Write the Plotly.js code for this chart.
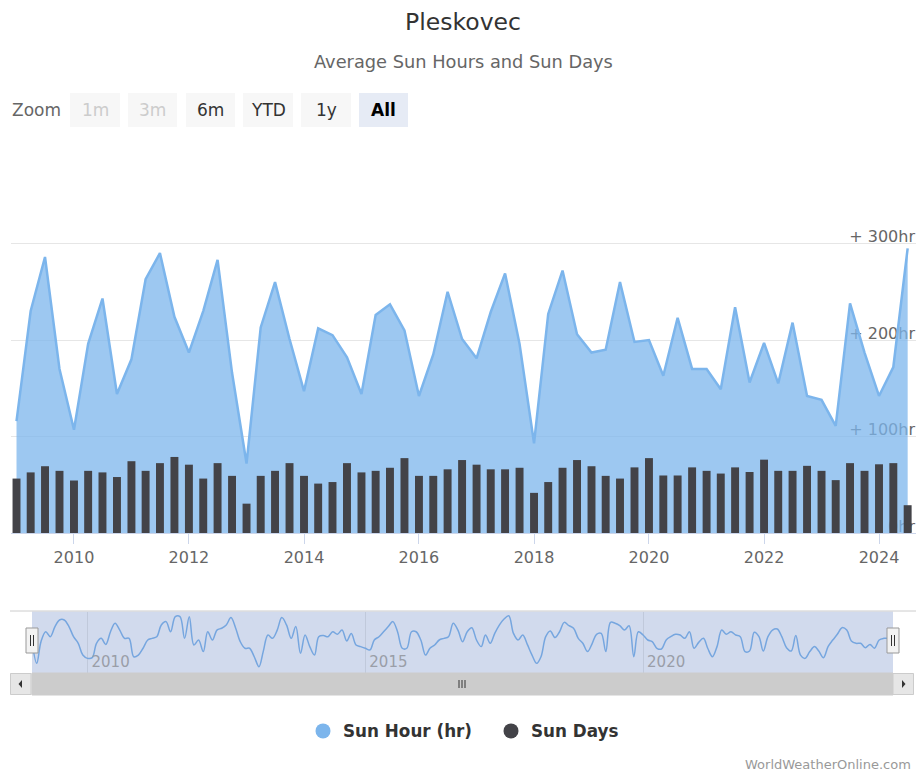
<!DOCTYPE html>
<html><head><meta charset="utf-8">
<script src="https://cdn.plot.ly/plotly-3.0.1.min.js"></script>
<style>html,body{margin:0;padding:0;background:#fff;}#chart{width:916px;height:773px;}</style>
</head><body><div id="chart"></div>
<script>
// ---- data (quarterly, starting Jan 2009) ----
const firstYear = 2009;
const sunHours = [
  116, 230, 286, 170,
  107, 196, 243, 144,
  180, 263, 290, 224,
  187, 230, 283, 166,
  72, 213, 260, 201,
  147, 212, 205, 182,
  144, 226, 237, 210,
  142, 185, 250, 201,
  181, 229, 269, 196,
  93, 227, 272, 206,
  187, 190, 260, 198,
  200, 163, 223, 170,
  170, 149, 234, 156,
  197, 155, 218, 142,
  138, 111, 238, 187,
  142, 172, 295
];
const sunDays = [
  14.1, 15.7, 17.3, 16.1,
  13.6, 16.1, 15.7, 14.5,
  18.6, 16.1, 18.1, 19.7,
  17.7, 14.1, 18.1, 14.8,
  7.6, 14.8, 16.1, 18.1,
  14.8, 12.8, 13.2, 18.1,
  15.7, 16.1, 16.9, 19.4,
  14.8, 14.8, 16.5, 18.9,
  17.7, 16.5, 16.5, 16.9,
  10.4, 13.2, 16.9, 18.9,
  17.3, 14.8, 14.1, 17.0,
  19.4, 14.9, 14.9, 17.0,
  16.1, 15.4, 17.0, 15.8,
  19.0, 16.1, 16.1, 17.4,
  16.1, 13.7, 18.1, 16.1,
  17.8, 18.1, 7.2
];
// navigator (monthly sun hours, starting Jan 2009)
const navHours = [
  185, 67, 185, 239, 212, 267, 303, 303, 267, 212, 176, 112,
  94, 98, 176, 203, 170, 239, 285, 248, 203, 203, 103, 112,
  149, 194, 203, 212, 276, 294, 239, 321, 321, 203, 321, 167,
  194, 131, 239, 194, 248, 258, 276, 316, 258, 185, 149, 149,
  103, 49, 131, 221, 203, 248, 316, 276, 203, 267, 122, 221,
  158, 112, 212, 218, 212, 239, 225, 248, 189, 230, 167, 158,
  149, 140, 194, 212, 239, 267, 294, 239, 149, 149, 239, 239,
  194, 112, 149, 167, 194, 203, 212, 285, 248, 185, 239, 261,
  194, 158, 221, 176, 230, 276, 308, 326, 230, 194, 221, 170,
  112, 67, 103, 212, 243, 207, 239, 290, 272, 258, 203, 176,
  131, 176, 225, 230, 131, 290, 285, 272, 248, 272, 103, 239,
  221, 194, 185, 149, 145, 194, 212, 225, 221, 203, 239, 149,
  181, 203, 149, 103, 158, 248, 225, 239, 221, 212, 131, 134,
  236, 212, 134, 212, 248, 254, 212, 152, 134, 218, 112, 94,
  131, 158, 134, 98, 158, 194, 225, 261, 248, 189, 176, 176,
  152, 170, 149, 194, 203, 203, 212
];
const xTickVals = ['2010-01-01', '2012-01-01', '2014-01-01', '2016-01-01', '2018-01-01', '2020-01-01', '2022-01-01', '2024-01-01'];
const xTickText = ['2010', '2012', '2014', '2016', '2018', '2020', '2022', '2024'];
const yTickVals = [0, 100, 200, 300, 400];
const yTickText = ['0hr', '+ 100hr', '+ 200hr', '+ 300hr', ''];
const navTickVals = ['2010-01-01', '2015-01-01', '2020-01-01'];
const navTickText = ['2010', '2015', '2020'];
const zoomButtons = ['1m', '3m', '6m', 'YTD', '1y', 'All'];

function monthSeq(y, m, n, step) {
  const out = [];
  for (let i = 0; i < n; i++) {
    const t = (m - 1) + i * step;
    const yy = y + Math.floor(t / 12);
    const mm = t % 12 + 1;
    out.push(yy + '-' + String(mm).padStart(2, '0') + '-01');
  }
  return out;
}
const quarterDates = monthSeq(firstYear, 1, sunHours.length, 3);
const monthDates = monthSeq(firstYear, 1, navHours.length, 1);

// ---- layout helpers (pixels -> paper) ----
const W = 916, H = 773;
const px = x => x / W;
const py = y => 1 - y / H;
const FONT = '"DejaVu Sans", Verdana, Arial, sans-serif';

const traces = [
  {
    type: 'scatter', mode: 'lines', x: quarterDates, y: sunHours, name: 'Sun Hour (hr)',
    line: {color: '#7cb5ec', width: 2.5}, fill: 'tozeroy', fillcolor: 'rgba(124,181,236,0.75)',
    xaxis: 'x', yaxis: 'y', showlegend: false, hoverinfo: 'skip'
  },
  {
    type: 'bar', x: quarterDates, y: sunDays, name: 'Sun Days',
    marker: {color: '#434348', line: {width: 0}},
    xaxis: 'x', yaxis: 'y2', showlegend: false, hoverinfo: 'skip'
  },
  {
    type: 'scatter', mode: 'lines', x: monthDates, y: navHours,
    line: {color: '#76a6df', width: 1.5, shape: 'spline', smoothing: 1},
    xaxis: 'x2', yaxis: 'y3', showlegend: false, hoverinfo: 'skip'
  },
  {
    type: 'scatter', mode: 'markers', x: [null], y: [null], name: 'Sun Hour (hr)',
    marker: {color: '#7cb5ec', size: 15}, xaxis: 'x', yaxis: 'y', showlegend: true
  },
  {
    type: 'scatter', mode: 'markers', x: [null], y: [null], name: 'Sun Days',
    marker: {color: '#434348', size: 15}, xaxis: 'x', yaxis: 'y', showlegend: true
  }
];

const shapes = [];
const annotations = [];

// navigator mask & outline
shapes.push({type: 'rect', xref: 'paper', yref: 'paper', x0: px(32), x1: px(893), y0: py(673), y1: py(611.5),
  fillcolor: 'rgba(102,133,194,0.3)', line: {width: 0}, layer: 'below'});
shapes.push({type: 'line', xref: 'paper', yref: 'paper', x0: px(10), x1: px(916), y0: py(611), y1: py(611),
  line: {color: '#cccccc', width: 1}});
// scrollbar
shapes.push({type: 'rect', xref: 'paper', yref: 'paper', x0: px(10), x1: px(914), y0: py(695), y1: py(673),
  fillcolor: '#f2f2f2', line: {width: 0}});
shapes.push({type: 'rect', xref: 'paper', yref: 'paper', x0: px(32), x1: px(893), y0: py(695), y1: py(673),
  fillcolor: '#cccccc', line: {color: '#cccccc', width: 1}});
shapes.push({type: 'rect', xref: 'paper', yref: 'paper', x0: px(10.5), x1: px(31), y0: py(694.5), y1: py(673.5),
  fillcolor: '#e6e6e6', line: {color: '#cccccc', width: 1}});
shapes.push({type: 'rect', xref: 'paper', yref: 'paper', x0: px(893), x1: px(913.5), y0: py(694.5), y1: py(673.5),
  fillcolor: '#e6e6e6', line: {color: '#cccccc', width: 1}});
shapes.push({type: 'path', xref: 'paper', yref: 'paper',
  path: `M ${px(22)} ${py(680)} L ${px(18.5)} ${py(684)} L ${px(22)} ${py(688)} Z`, fillcolor: '#333', line: {width: 0}});
shapes.push({type: 'path', xref: 'paper', yref: 'paper',
  path: `M ${px(902)} ${py(680)} L ${px(905.5)} ${py(684)} L ${px(902)} ${py(688)} Z`, fillcolor: '#333', line: {width: 0}});
[459, 462, 465].forEach(x => shapes.push({type: 'line', xref: 'paper', yref: 'paper', x0: px(x), x1: px(x),
  y0: py(680), y1: py(688), line: {color: '#333', width: 1}}));
// navigator handles
[[26, 38], [887, 899]].forEach(([a, b]) => {
  shapes.push({type: 'rect', xref: 'paper', yref: 'paper', x0: px(a), x1: px(b), y0: py(653), y1: py(628),
    fillcolor: '#f2f2f2', line: {color: '#999999', width: 1}});
  const c = (a + b) / 2;
  [c - 1.5, c + 1.5].forEach(x => shapes.push({type: 'line', xref: 'paper', yref: 'paper', x0: px(x), x1: px(x),
    y0: py(635), y1: py(646), line: {color: '#333', width: 1}}));
});

// zoom buttons
const btnX = [[70, 120], [128, 177], [186, 235], [243, 293], [301, 351], [359, 408]];
zoomButtons.forEach((label, i) => {
  const [a, b] = btnX[i];
  const active = label === 'All';
  const disabled = label === '1m' || label === '3m';
  shapes.push({type: 'rect', xref: 'paper', yref: 'paper', x0: px(a), x1: px(b), y0: py(127), y1: py(93),
    fillcolor: active ? '#e6ebf5' : '#f7f7f7', line: {width: 0}});
  annotations.push({xref: 'paper', yref: 'paper', x: px((a + b) / 2), y: py(110), xanchor: 'center', yanchor: 'middle',
    showarrow: false, text: label,
    font: {family: FONT, size: 17, color: disabled ? '#cccccc' : (active ? '#000000' : '#333333'), weight: active ? 'bold' : 'normal'}});
});
annotations.push({xref: 'paper', yref: 'paper', x: px(10), y: py(110), xanchor: 'left', yanchor: 'middle',
  showarrow: false, text: 'Zoom', font: {family: FONT, size: 17, color: '#666666'}});
annotations.push({xref: 'paper', yref: 'paper', x: px(463), y: py(62), xanchor: 'center', yanchor: 'middle',
  showarrow: false, text: 'Average Sun Hours and Sun Days', font: {family: FONT, size: 17.8, color: '#666666'}});
annotations.push({xref: 'paper', yref: 'paper', x: px(913), y: py(764), xanchor: 'right', yanchor: 'middle',
  showarrow: false, text: 'WorldWeatherOnline.com', font: {family: FONT, size: 13, color: '#999999'}});

const layout = {
  width: W, height: H,
  margin: {l: 0, r: 0, t: 0, b: 0, pad: 0},
  paper_bgcolor: '#ffffff', plot_bgcolor: 'rgba(0,0,0,0)',
  font: {family: FONT, color: '#666666'},
  title: {text: 'Pleskovec', x: px(463), xanchor: 'center', y: py(22), yanchor: 'middle',
    font: {family: FONT, size: 23.5, color: '#333333'}},
  bargap: 0.44,
  xaxis: {
    domain: [px(11), 1], anchor: 'y', type: 'date', range: ['2008-11-27', '2024-08-23'],
    tickvals: xTickVals, ticktext: xTickText,
    ticks: 'outside', ticklen: 10, tickcolor: '#ccd6eb', tickwidth: 1,
    showline: true, linecolor: '#ccd6eb', linewidth: 1, showgrid: false, zeroline: false,
    tickfont: {family: FONT, size: 16, color: '#666666'}, fixedrange: true
  },
  yaxis: {
    domain: [py(533), py(147)], anchor: 'free', position: 1, range: [0, 400], side: 'left',
    tickvals: yTickVals, ticktext: yTickText, ticklabelposition: 'outside', ticklabelshift: -7, ticklabelstandoff: 1,
    showgrid: true, gridcolor: '#e6e6e6', gridwidth: 1, zeroline: false, ticks: '', showline: false,
    tickfont: {family: FONT, size: 16, color: '#666666'}, layer: 'below traces', fixedrange: true
  },
  yaxis2: {overlaying: 'y', anchor: 'x', range: [0, 100], visible: false, showgrid: false, zeroline: false, fixedrange: true},
  xaxis2: {
    domain: [px(32), px(893)], anchor: 'y3', type: 'date', range: ['2009-01-01', '2024-07-01'],
    tickvals: navTickVals, ticktext: navTickText, ticklabelposition: 'inside right', ticks: '',
    ticklabelshift: 4, ticklabelstandoff: -3,
    showgrid: true, gridcolor: '#c0c9db', gridwidth: 1, showline: false, zeroline: false,
    tickfont: {family: FONT, size: 15, color: '#9a9ea8'}, fixedrange: true
  },
  yaxis3: {domain: [py(673.3), py(611.7)], anchor: 'x2', range: [12.8, 348], visible: false,
    showgrid: false, zeroline: false, fixedrange: true},
  showlegend: true,
  legend: {
    orientation: 'h', x: px(303), xanchor: 'left', y: py(731), yanchor: 'middle',
    font: {family: FONT, size: 16.8, color: '#333333', weight: 'bold'},
    entrywidth: 143, entrywidthmode: 'pixels', itemsizing: 'trace', bgcolor: 'rgba(0,0,0,0)', borderwidth: 0
  },
  shapes: shapes,
  annotations: annotations
};

Plotly.newPlot('chart', traces, layout, {displayModeBar: false, staticPlot: true});
</script>
</body></html>
